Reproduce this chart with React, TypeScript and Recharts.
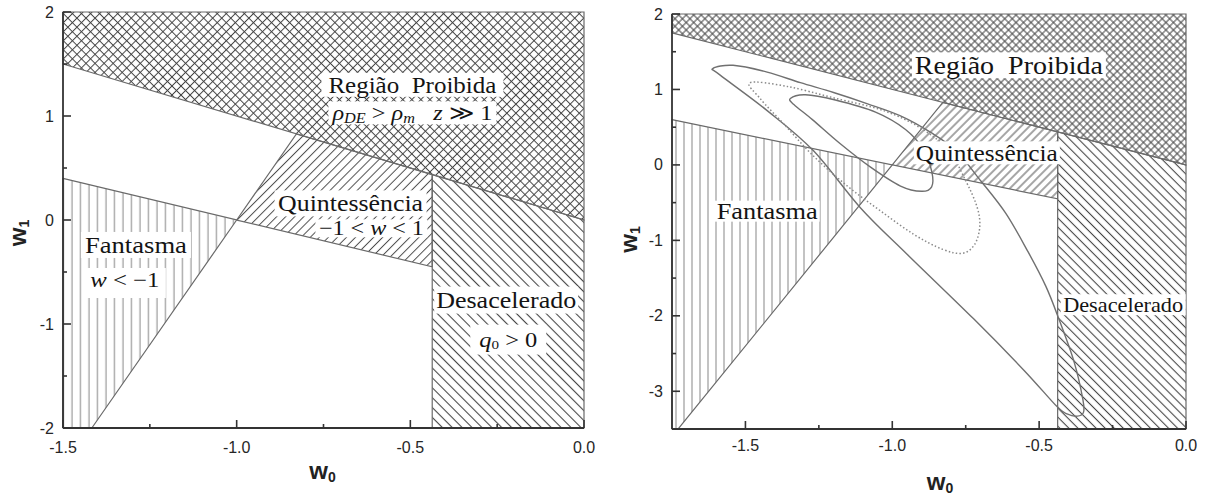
import React from 'react';
import { ComposedChart, XAxis, YAxis, Line, ReferenceArea, ReferenceDot } from 'recharts';

type Pt = { x: number; y: number };
const P = (x: number, y: number): Pt => ({ x, y });

// ---------- Left panel: w0 in [-1.5, 0], w1 in [-2, 2] ----------
const leftXDomain: [number, number] = [-1.5, 0];
const leftYDomain: [number, number] = [-2, 2];
const leftXTicks = [-1.5, -1.25, -1.0, -0.75, -0.5, -0.25, 0];
const leftYTicks = [-2, -1.5, -1, -0.5, 0, 0.5, 1, 1.5, 2];
const leftXMajor = [-1.5, -1.0, -0.5, 0];
const leftYMajor = [-2, -1, 0, 1, 2];

const leftForbidden: Pt[] = [P(-1.5, 1.5), P(0, 0), P(0, 2), P(-1.5, 2)];
const leftQuintessence: Pt[] = [P(-1, 0), P(-0.828, 0.828), P(-0.437, 0.437), P(-0.437, -0.45)];
const leftPhantom: Pt[] = [P(-1.5, 0.4), P(-1, 0), P(-1.417, -2), P(-1.5, -2)];
const leftDecelerated: Pt[] = [P(-0.437, -2), P(-0.437, 0.437), P(0, 0), P(0, -2)];

// ---------- Right panel: w0 in [-1.75, 0], w1 in [-3.5, 2] ----------
const rightXDomain: [number, number] = [-1.75, 0];
const rightYDomain: [number, number] = [-3.5, 2];
const rightXTicks = [-1.5, -1.25, -1.0, -0.75, -0.5, -0.25, 0];
const rightYTicks = [-3, -2.5, -2, -1.5, -1, -0.5, 0, 0.5, 1, 1.5, 2];
const rightXMajor = [-1.5, -1.0, -0.5, 0];
const rightYMajor = [-3, -2, -1, 0, 1, 2];

const rightForbidden: Pt[] = [P(-1.75, 1.75), P(0, 0), P(0, 2), P(-1.75, 2)];
const rightQuintessence: Pt[] = [P(-1, 0), P(-0.828, 0.828), P(-0.437, 0.437), P(-0.437, -0.45)];
const rightPhantom: Pt[] = [P(-1.75, 0.6), P(-1, 0), P(-1.729, -3.5), P(-1.75, -3.5)];
const rightDecelerated: Pt[] = [P(-0.437, -3.5), P(-0.437, 0.437), P(0, 0), P(0, -3.5)];

// confidence contours in the (w0, w1) plane
const outerContour: Pt[] = [
  P(-1.61, 1.28), P(-1.542, 1.32), P(-1.426, 1.23), P(-1.313, 1.09), P(-1.2, 0.96),
  P(-1.084, 0.81), P(-0.972, 0.65), P(-0.869, 0.43), P(-0.784, 0.19), P(-0.699, -0.21),
  P(-0.614, -0.64), P(-0.538, -1.15), P(-0.477, -1.61), P(-0.433, -2.04), P(-0.381, -2.61),
  P(-0.351, -3.11), P(-0.349, -3.28), P(-0.37, -3.33), P(-0.405, -3.3), P(-0.44, -3.2),
  P(-0.552, -2.72), P(-0.723, -2.04), P(-0.948, -1.19), P(-1.108, -0.57), P(-1.269, 0.19),
  P(-1.426, 0.72), P(-1.586, 1.19),
];
const middleContour: Pt[] = [
  P(-1.484, 1.09), P(-1.358, 1.04), P(-1.201, 0.89), P(-1.03, 0.72), P(-0.904, 0.49),
  P(-0.808, 0.19), P(-0.75, -0.21), P(-0.712, -0.55), P(-0.702, -0.81), P(-0.719, -1.05),
  P(-0.76, -1.17), P(-0.828, -1.12), P(-0.927, -0.92), P(-1.04, -0.61), P(-1.153, -0.28),
  P(-1.269, 0.12), P(-1.364, 0.52), P(-1.45, 0.88),
];
const innerContour: Pt[] = [
  P(-1.347, 0.88), P(-1.296, 0.93), P(-1.194, 0.86), P(-1.057, 0.7), P(-0.955, 0.47),
  P(-0.893, 0.2), P(-0.865, -0.1), P(-0.866, -0.29), P(-0.9, -0.35), P(-0.972, -0.28),
  P(-1.074, -0.03), P(-1.177, 0.28), P(-1.272, 0.6), P(-1.335, 0.8),
];

// ---------- styling ----------
const SERIF = '"Liberation Serif", "DejaVu Serif", serif';
const SANS = '"Liberation Sans", Arial, sans-serif';
const FRAME = '#333';
const EDGE = '#6a6a6a';

// closed Catmull-Rom spline through the contour points
function closedSpline(context: any) {
  let pts: [number, number][] = [];
  return {
    areaStart() {},
    areaEnd() {},
    lineStart() {
      pts = [];
    },
    point(x: number, y: number) {
      pts.push([x, y]);
    },
    lineEnd() {
      const n = pts.length;
      if (!n) return;
      context.moveTo(pts[0][0], pts[0][1]);
      for (let i = 0; i < n; i++) {
        const p0 = pts[(i - 1 + n) % n];
        const p1 = pts[i];
        const p2 = pts[(i + 1) % n];
        const p3 = pts[(i + 2) % n];
        context.bezierCurveTo(
          p1[0] + (p2[0] - p0[0]) / 6,
          p1[1] + (p2[1] - p0[1]) / 6,
          p2[0] - (p3[0] - p1[0]) / 6,
          p2[1] - (p3[1] - p1[1]) / 6,
          p2[0],
          p2[1],
        );
      }
      context.closePath();
    },
  };
}

// polygon drawn inside the rectangle that the axes give for its bounding box
function region(key: string, pts: Pt[], fill: string) {
  const xs = pts.map((p) => p.x);
  const ys = pts.map((p) => p.y);
  const x1 = Math.min(...xs);
  const x2 = Math.max(...xs);
  const y1 = Math.min(...ys);
  const y2 = Math.max(...ys);
  const shape = (p: any) => {
    const points = pts
      .map((v) => `${p.x + ((v.x - x1) / (x2 - x1)) * p.width},${p.y + ((y2 - v.y) / (y2 - y1)) * p.height}`)
      .join(' ');
    return <polygon points={points} fill={fill} stroke={EDGE} strokeWidth={1.2} strokeLinejoin="miter" />;
  };
  return <ReferenceArea key={key} x1={x1} x2={x2} y1={y1} y2={y2} shape={shape} ifOverflow="visible" />;
}

type BoxLabel = {
  x: number;
  y: number;
  w: number;
  h: number;
  dy?: number;
  body: React.ReactNode;
  size: number;
  len?: number;
  italic?: boolean;
};

function boxedLabel(key: string, l: BoxLabel) {
  const shape = (p: any) => (
    <g>
      <rect x={p.cx - l.w / 2} y={p.cy - l.h / 2 + (l.dy ?? 0)} width={l.w} height={l.h} fill="#fff" />
      <text
        x={p.cx}
        y={p.cy}
        textAnchor="middle"
        dominantBaseline="central"
        fontFamily={SERIF}
        fontSize={l.size}
        fontStyle={l.italic ? 'italic' : 'normal'}
        fill="#141414"
        textLength={l.len}
        lengthAdjust="spacingAndGlyphs"
      >
        {l.body}
      </text>
    </g>
  );
  return <ReferenceDot key={key} x={l.x} y={l.y} r={0} shape={shape} ifOverflow="visible" />;
}

const fmtX = (v: number) => (v === 0 ? '0.0' : v.toFixed(1));
const fmtY = (v: number) => `${v}`;

const has = (list: number[], v: number) => list.some((m) => Math.abs(m - v) < 1e-9);

function makeTick(side: 'bottom' | 'left' | 'top' | 'right', majors: number[], fmt: (v: number) => string, labelGap: number) {
  return (props: any) => {
    const { x, y, payload } = props;
    const v = payload.value as number;
    const major = has(majors, v);
    const len = major ? 8 : 4;
    let line: React.ReactNode;
    let label: React.ReactNode = null;
    if (side === 'bottom') {
      line = <line x1={x} y1={y} x2={x} y2={y - len} stroke={FRAME} strokeWidth={1.6} />;
      if (major)
        label = (
          <text x={x} y={y + labelGap} textAnchor="middle" dominantBaseline="central" fontFamily={SANS} fontSize={16} fill="#262626">
            {fmt(v)}
          </text>
        );
    } else if (side === 'left') {
      line = <line x1={x} y1={y} x2={x + len} y2={y} stroke={FRAME} strokeWidth={1.6} />;
      if (major)
        label = (
          <text x={x - labelGap} y={y} textAnchor="end" dominantBaseline="central" fontFamily={SANS} fontSize={16} fill="#262626">
            {fmt(v)}
          </text>
        );
    } else if (side === 'top') {
      line = <line x1={x} y1={y} x2={x} y2={y + len} stroke={FRAME} strokeWidth={1.6} />;
    } else {
      line = <line x1={x} y1={y} x2={x - len} y2={y} stroke={FRAME} strokeWidth={1.6} />;
    }
    return (
      <g>
        {line}
        {label}
      </g>
    );
  };
}

function xTitle(dx: number, dy: number) {
  return (p: any) => {
    const vb = p.viewBox;
    const cx = vb.x + vb.width / 2 + dx;
    const cy = vb.y + dy;
    return (
      <text x={cx} y={cy} textAnchor="middle" dominantBaseline="central" fontFamily={SANS} fontWeight="bold" fontSize={24} fill="#222">
        w<tspan fontSize={14} dy={7}>0</tspan>
      </text>
    );
  };
}

function yTitle(dx: number, dy: number) {
  return (p: any) => {
    const vb = p.viewBox;
    const cx = vb.x + vb.width + dx;
    const cy = vb.y + vb.height / 2 + dy;
    return (
      <text
        x={cx}
        y={cy}
        transform={`rotate(-90, ${cx}, ${cy})`}
        textAnchor="middle"
        dominantBaseline="central"
        fontFamily={SANS}
        fontWeight="bold"
        fontSize={24}
        fill="#222"
      >
        w<tspan fontSize={14} dy={7}>1</tspan>
      </text>
    );
  };
}

type PanelProps = {
  width: number;
  height: number;
  margin: { top: number; right: number; left: number; bottom: number };
  xDomain: [number, number];
  yDomain: [number, number];
  xTicks: number[];
  yTicks: number[];
  xMajor: number[];
  yMajor: number[];
  hatch: { cross: string; quint: string; phantom: string; decel: string };
  regions: { forbidden: Pt[]; quint: Pt[]; phantom: Pt[]; decel: Pt[] };
  labels: BoxLabel[];
  contours?: React.ReactNode;
  xLabelGap: number;
  xTitleOffset: [number, number];
  yTitleOffset: [number, number];
};

function Panel(p: PanelProps) {
  return (
    <ComposedChart width={p.width} height={p.height} margin={p.margin}>
      {region('forbidden', p.regions.forbidden, `url(#${p.hatch.cross})`)}
      {region('quint', p.regions.quint, `url(#${p.hatch.quint})`)}
      {region('phantom', p.regions.phantom, `url(#${p.hatch.phantom})`)}
      {region('decel', p.regions.decel, `url(#${p.hatch.decel})`)}
      {p.contours}
      <XAxis
        xAxisId={0}
        dataKey="x"
        type="number"
        domain={p.xDomain}
        ticks={p.xTicks}
        interval={0}
        allowDataOverflow
        height={30}
        tickSize={0}
        tickMargin={0}
        axisLine={{ stroke: FRAME, strokeWidth: 1.8 }}
        tick={makeTick('bottom', p.xMajor, fmtX, p.xLabelGap)}
        label={{ content: xTitle(p.xTitleOffset[0], p.xTitleOffset[1]) }}
      />
      <XAxis
        xAxisId="top"
        orientation="top"
        dataKey="x"
        type="number"
        domain={p.xDomain}
        ticks={p.xTicks}
        interval={0}
        allowDataOverflow
        height={0}
        tickSize={0}
        tickMargin={0}
        axisLine={{ stroke: FRAME, strokeWidth: 1.8 }}
        tick={makeTick('top', p.xMajor, fmtX, 0)}
      />
      <YAxis
        yAxisId={0}
        type="number"
        domain={p.yDomain}
        ticks={p.yTicks}
        interval={0}
        allowDataOverflow
        width={40}
        tickSize={0}
        tickMargin={0}
        axisLine={{ stroke: FRAME, strokeWidth: 1.8 }}
        tick={makeTick('left', p.yMajor, fmtY, 9)}
        label={{ content: yTitle(p.yTitleOffset[0], p.yTitleOffset[1]) }}
      />
      <YAxis
        yAxisId="right"
        orientation="right"
        type="number"
        domain={p.yDomain}
        ticks={p.yTicks}
        interval={0}
        allowDataOverflow
        width={0}
        tickSize={0}
        tickMargin={0}
        axisLine={{ stroke: FRAME, strokeWidth: 1.8 }}
        tick={makeTick('right', p.yMajor, fmtY, 0)}
      />
      {p.labels.map((l, i) => boxedLabel(`lbl${i}`, l))}
    </ComposedChart>
  );
}

const leftLabels: BoxLabel[] = [
  { x: -0.494, y: 1.3, w: 182, h: 24, size: 24, len: 168, body: 'Região\u00a0\u00a0Proibida' },
  {
    x: -0.494,
    y: 1.03,
    w: 168,
    h: 23,
    size: 21,
    len: 160,
    italic: true,
    body: (
      <>
        ρ<tspan fontSize={14} dy={5}>DE</tspan>
        <tspan dy={-5} fontStyle="normal"> &gt; </tspan>ρ<tspan fontSize={14} dy={5}>m</tspan>
        <tspan dy={-5}>{'\u00a0\u00a0\u00a0z '}</tspan>
        <tspan fontStyle="normal">≫ 1</tspan>
      </>
    ),
  },
  { x: -0.672, y: 0.16, w: 152, h: 26, size: 24, len: 145, body: 'Quintessência' },
  {
    x: -0.612,
    y: -0.08,
    w: 112,
    h: 18,
    size: 21,
    len: 105,
    body: (
      <>
        −1 &lt; <tspan fontStyle="italic">w</tspan> &lt; 1
      </>
    ),
  },
  { x: -1.29, y: -0.24, w: 110, h: 26, size: 24, len: 102, body: 'Fantasma' },
  {
    x: -1.322,
    y: -0.577,
    w: 82,
    h: 30,
    dy: 3,
    size: 21,
    len: 69,
    body: (
      <>
        <tspan fontStyle="italic">w</tspan> &lt; −1
      </>
    ),
  },
  { x: -0.224, y: -0.77, w: 144, h: 27, size: 24, len: 140, body: 'Desacelerado' },
  {
    x: -0.218,
    y: -1.15,
    w: 76,
    h: 30,
    size: 21,
    len: 58,
    body: (
      <>
        <tspan fontStyle="italic">q</tspan>
        <tspan fontSize={13} dy={4}>0</tspan>
        <tspan dy={-4}> &gt; 0</tspan>
      </>
    ),
  },
];

const rightLabels: BoxLabel[] = [
  { x: -0.603, y: 1.32, w: 194, h: 26, size: 26, len: 188, body: 'Região\u00a0\u00a0Proibida' },
  { x: -0.678, y: 0.16, w: 146, h: 23, size: 24, len: 142, body: 'Quintessência' },
  { x: -1.426, y: -0.613, w: 105, h: 21, size: 24, len: 101, body: 'Fantasma' },
  { x: -0.214, y: -1.853, w: 125, h: 21, size: 21, len: 120, body: 'Desacelerado' },
];

function Hatches() {
  return (
    <svg width={0} height={0} style={{ position: 'absolute' }}>
      <defs>
        <pattern id="crossL" width={6.4} height={6.4} patternUnits="userSpaceOnUse" patternTransform="rotate(45)">
          <line x1={0} y1={3.2} x2={6.4} y2={3.2} stroke="#444" strokeWidth={1} />
          <line x1={3.2} y1={0} x2={3.2} y2={6.4} stroke="#444" strokeWidth={1} />
        </pattern>
        <pattern id="crossR" width={5.3} height={5.3} patternUnits="userSpaceOnUse" patternTransform="rotate(45)">
          <line x1={0} y1={2.65} x2={5.3} y2={2.65} stroke="#444" strokeWidth={1} />
          <line x1={2.65} y1={0} x2={2.65} y2={5.3} stroke="#444" strokeWidth={1} />
        </pattern>
        <pattern id="fwdL" width={6.4} height={6.4} patternUnits="userSpaceOnUse" patternTransform="rotate(45)">
          <line x1={3.2} y1={0} x2={3.2} y2={6.4} stroke="#4d4d4d" strokeWidth={1} />
        </pattern>
        <pattern id="fwdR" width={6} height={6} patternUnits="userSpaceOnUse" patternTransform="rotate(45)">
          <line x1={3} y1={0} x2={3} y2={6} stroke="#4d4d4d" strokeWidth={1} />
        </pattern>
        <pattern id="backL" width={7} height={7} patternUnits="userSpaceOnUse" patternTransform="rotate(-45)">
          <line x1={3.5} y1={0} x2={3.5} y2={7} stroke="#444" strokeWidth={1.1} />
        </pattern>
        <pattern id="backR" width={6.4} height={6.4} patternUnits="userSpaceOnUse" patternTransform="rotate(-45)">
          <line x1={3.2} y1={0} x2={3.2} y2={6.4} stroke="#444" strokeWidth={1.1} />
        </pattern>
        <pattern id="vertL" width={8.5} height={10} patternUnits="userSpaceOnUse">
          <line x1={4} y1={0} x2={4} y2={10} stroke="#9a9a9a" strokeWidth={1.2} />
        </pattern>
        <pattern id="vertR" width={8} height={10} patternUnits="userSpaceOnUse">
          <line x1={4} y1={0} x2={4} y2={10} stroke="#9a9a9a" strokeWidth={1.2} />
        </pattern>
      </defs>
    </svg>
  );
}

export default function App() {
  const contourStroke = '#707070';
  const contours = [
    <Line
      key="outer"
      data={outerContour}
      dataKey="y"
      type={closedSpline as any}
      stroke={contourStroke}
      strokeWidth={1.4}
      dot={false}
      activeDot={false}
      isAnimationActive={false}
    />,
    <Line
      key="middle"
      data={middleContour}
      dataKey="y"
      type={closedSpline as any}
      stroke="#8a8a8a"
      strokeWidth={1.5}
      strokeDasharray="1.5 2.2"
      dot={false}
      activeDot={false}
      isAnimationActive={false}
    />,
    <Line
      key="inner"
      data={innerContour}
      dataKey="y"
      type={closedSpline as any}
      stroke={contourStroke}
      strokeWidth={1.4}
      dot={false}
      activeDot={false}
      isAnimationActive={false}
    />,
  ];

  return (
    <div style={{ position: 'absolute', left: 0, top: 0, width: 1207, height: 502, background: '#fff' }}>
      <Hatches />
      <div style={{ position: 'absolute', left: 0, top: 0 }}>
        <Panel
          width={600}
          height={502}
          margin={{ top: 12, right: 16, left: 23, bottom: 44 }}
          xDomain={leftXDomain}
          yDomain={leftYDomain}
          xTicks={leftXTicks}
          yTicks={leftYTicks}
          xMajor={leftXMajor}
          yMajor={leftYMajor}
          hatch={{ cross: 'crossL', quint: 'fwdL', phantom: 'vertL', decel: 'backL' }}
          regions={{ forbidden: leftForbidden, quint: leftQuintessence, phantom: leftPhantom, decel: leftDecelerated }}
          labels={leftLabels}
          xLabelGap={19}
          xTitleOffset={[-1, 42]}
          yTitleOffset={[-46, 13]}
        />
      </div>
      <div style={{ position: 'absolute', left: 600, top: 0 }}>
        <Panel
          width={607}
          height={502}
          margin={{ top: 14, right: 21, left: 32, bottom: 43 }}
          xDomain={rightXDomain}
          yDomain={rightYDomain}
          xTicks={rightXTicks}
          yTicks={rightYTicks}
          xMajor={rightXMajor}
          yMajor={rightYMajor}
          hatch={{ cross: 'crossR', quint: 'fwdR', phantom: 'vertR', decel: 'backR' }}
          regions={{ forbidden: rightForbidden, quint: rightQuintessence, phantom: rightPhantom, decel: rightDecelerated }}
          labels={rightLabels}
          contours={contours}
          xLabelGap={16}
          xTitleOffset={[11, 52]}
          yTitleOffset={[-44, 18]}
        />
      </div>
    </div>
  );
}
